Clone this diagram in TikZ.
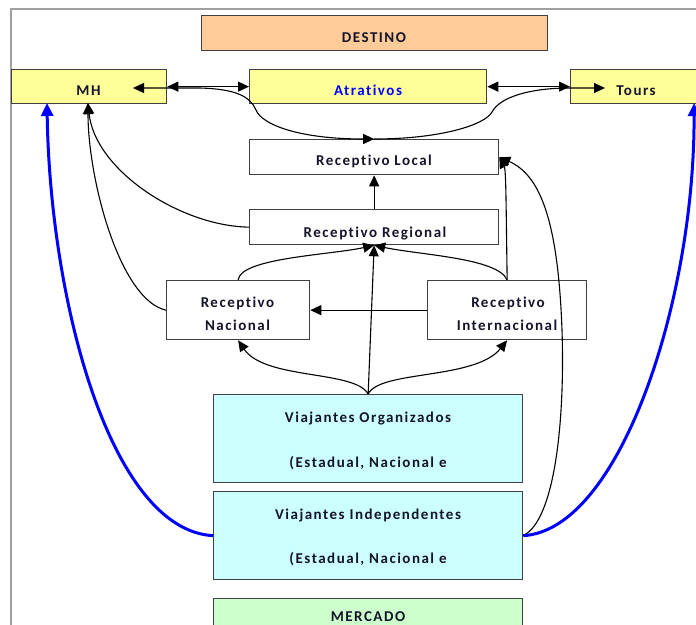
\documentclass[tikz,border=0pt]{standalone}
\usepackage{fontspec}
\setmainfont{Carlito}[LetterSpace=10, Ligatures=NoCommon]
\usetikzlibrary{arrows.meta}

\definecolor{peach}{HTML}{FFCC99}
\definecolor{paleyellow}{HTML}{FFFF99}
\definecolor{palecyan}{HTML}{CCFFFF}
\definecolor{palegreen}{HTML}{CCFFCC}
\definecolor{textnavy}{HTML}{14142A}
\definecolor{linkblue}{HTML}{0000FF}
\definecolor{framegray}{HTML}{A0A0A0}
\definecolor{boxedge}{HTML}{404040}

\tikzset{
  tbox/.style={draw=boxedge, line width=1.3pt, anchor=north west, inner sep=0pt},
  lbl/.style={font=\bfseries\fontsize{15}{17}\selectfont, text=textnavy, inner sep=0pt, anchor=base},
  link/.style={line width=1.1pt, -{Triangle[length=11pt,width=10pt]}},
  twoway/.style={line width=1.1pt, {Triangle[length=11pt,width=10pt]}-{Triangle[length=11pt,width=10pt]}},
  bluelink/.style={draw=linkblue, line width=3pt, -{Triangle[length=13pt,width=12pt]}}
}

\begin{document}
\begin{tikzpicture}[x=1pt, y=-1pt]
\useasboundingbox (0,0) rectangle (696,624);
\clip (0,0) rectangle (696,624);

% page frame
\draw[framegray, line width=1.5pt] (11,630) -- (11,9) -- (700,9);

% boxes
\node[tbox, fill=peach, minimum width=346pt, minimum height=35pt] (dest) at (201,15) {};
\node[tbox, fill=paleyellow, minimum width=155pt, minimum height=34pt] (mh) at (11,69) {};
\node[tbox, fill=paleyellow, minimum width=237pt, minimum height=34pt] (atr) at (249,69) {};
\node[tbox, fill=paleyellow, minimum width=140pt, minimum height=34pt] (tours) at (570,69) {};
\node[tbox, fill=white, minimum width=249pt, minimum height=35pt] (rl) at (249,139) {};
\node[tbox, fill=white, minimum width=249pt, minimum height=35pt] (rr) at (249,209) {};
\node[tbox, fill=white, minimum width=143pt, minimum height=59pt] (rn) at (166,280) {};
\node[tbox, fill=white, minimum width=159pt, minimum height=59pt] (ri) at (427,280) {};
\node[tbox, fill=palecyan, minimum width=309pt, minimum height=88pt] (vo) at (213,394) {};
\node[tbox, fill=palecyan, minimum width=309pt, minimum height=88pt] (vi) at (213,491) {};
\node[tbox, fill=palegreen, minimum width=309pt, minimum height=40pt] (merc) at (213,598) {};

% labels
\node[lbl] (destT) at (374,42) {DESTINO};
\node[lbl] (mhT) at (88.5,95) {MH};
\node[lbl, text=linkblue] (atrT) at (368,95) {Atrativos};
\node[lbl] (toursT) at (636,95) {Tours};
\node[lbl] (rlT) at (374,165) {Receptivo Local};
\node[lbl] (rrT) at (375,237) {Receptivo Regional};
\node[lbl] (rnT1) at (237.5,307) {Receptivo};
\node[lbl] (rnT2) at (237.5,330) {Nacional};
\node[lbl] (riT1) at (508,307) {Receptivo};
\node[lbl] (riT2) at (507,330) {Internacional};
\node[lbl] (voT1) at (368,422) {Viajantes Organizados};
\node[lbl] (voT2) at (368,467) {(Estadual, Nacional e};
\node[lbl] (viT1) at (368,519) {Viajantes Independentes};
\node[lbl] (viT2) at (368,563) {(Estadual, Nacional e};
\node[lbl] (mercT) at (368,621.5) {MERCADO};

% free ends of connectors
\coordinate (mhin) at (133,88);
\coordinate (toursin) at (605,88);
\coordinate (mhb) at (88,103);
\coordinate (mhbl) at (47,103);
\coordinate (toursb) at (694,103);

% destination row
\draw[twoway] (mh.east) -- (atr.west);
\draw[twoway] (atr.east) -- (tours.west);
\draw[twoway] (mhin) -- (200,88) .. controls (235,89) and (250,96) .. (256,110)
  .. controls (262,125) and (300,139) .. (rl.north);
\draw[link] (rl.north) .. controls (440,139) and (485,125) .. (492,112)
  .. controls (500,97) and (530,88) .. (570,88) -- (toursin);

% receptive agencies
\draw[link] (rr.north) -- (rl.south);
\draw[link] (rr.west) .. controls (180,226) and (95,170) .. (mhb);
\draw[link] (rn.west) .. controls (120,300) and (88,180) .. (mhb);
\draw[link] (rn.north) .. controls (240,258) and (330,255) .. (rr.south);
\draw[link] (ri.north) .. controls (498,258) and (420,255) .. (rr.south);
\draw[link] (ri.north) .. controls (506,200) and (506,170) .. (rl.east);
\draw[link] (ri.west) -- (rn.east);

% travellers
\draw[link] (vo.north) -- (rr.south);
\draw[link] (vo.north) .. controls (355,370) and (265,380) .. (rn.south);
\draw[link] (vo.north) .. controls (380,370) and (475,380) .. (ri.south);
\draw[link] (vi.east) .. controls (555,520) and (565,420) .. (562,330)
  .. controls (558,220) and (540,175) .. (rl.east);

% direct links to lodging and tours
\draw[bluelink] (vi.west) .. controls (110,530) and (50,300) .. (mhbl);
\draw[bluelink] (vi.east) .. controls (620,530) and (695,300) .. (toursb);
\end{tikzpicture}
\end{document}
